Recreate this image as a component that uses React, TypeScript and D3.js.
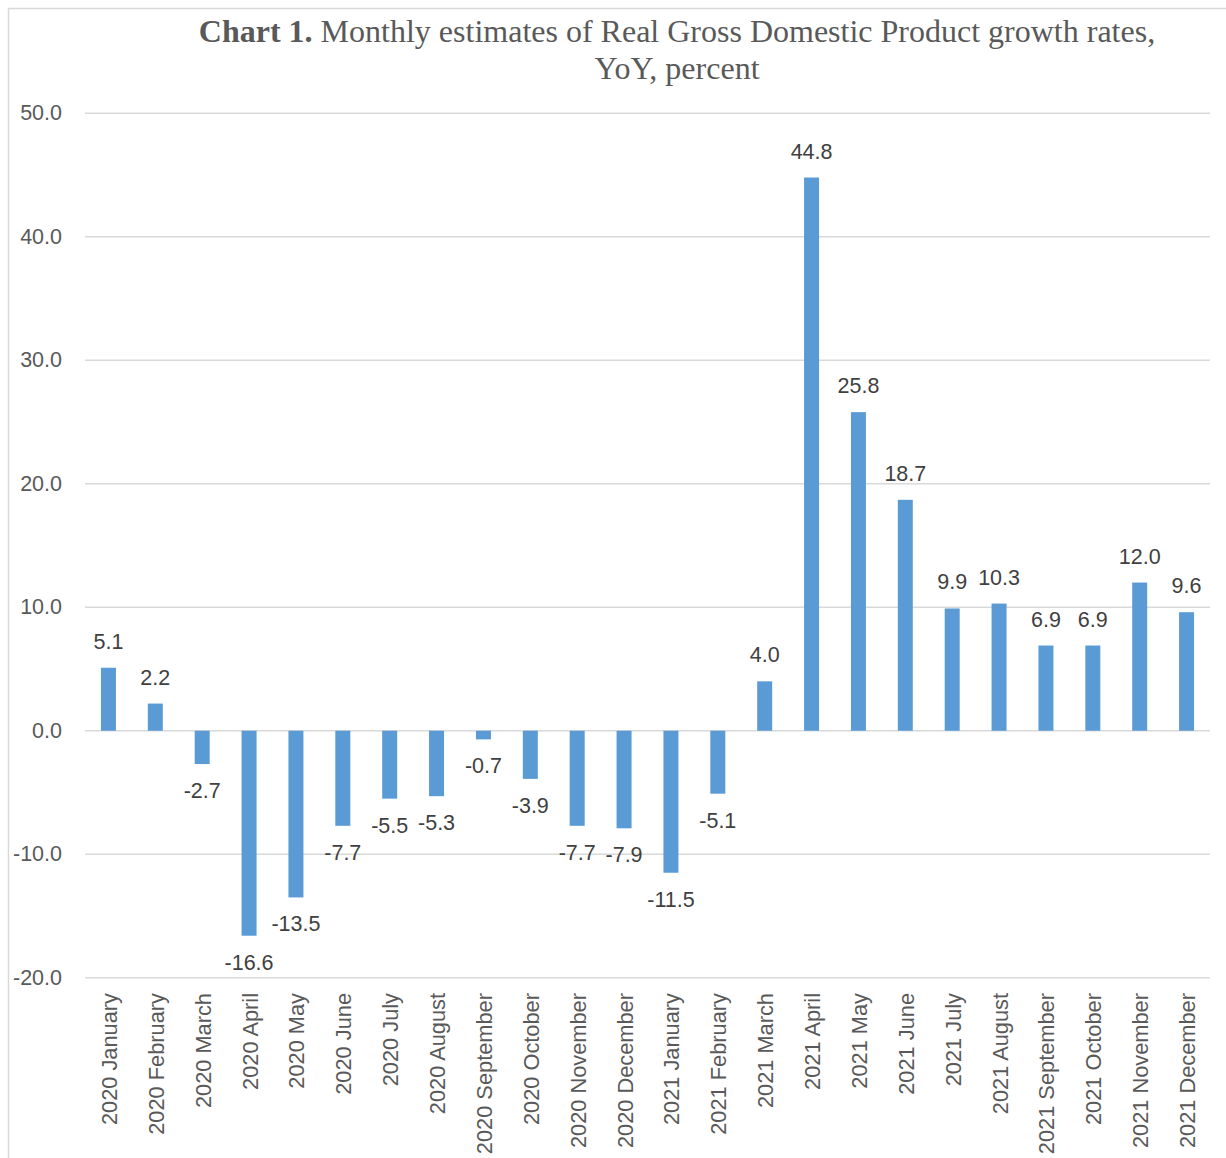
import React from "react";
import * as d3 from "d3";

const categories: string[] = [
  "2020 January", "2020 February", "2020 March", "2020 April", "2020 May", "2020 June",
  "2020 July", "2020 August", "2020 September", "2020 October", "2020 November", "2020 December",
  "2021 January", "2021 February", "2021 March", "2021 April", "2021 May", "2021 June",
  "2021 July", "2021 August", "2021 September", "2021 October", "2021 November", "2021 December",
];
const values: number[] = [
  5.1, 2.2, -2.7, -16.6, -13.5, -7.7, -5.5, -5.3, -0.7, -3.9, -7.7, -7.9,
  -11.5, -5.1, 4.0, 44.8, 25.8, 18.7, 9.9, 10.3, 6.9, 6.9, 12.0, 9.6,
];
const yTicks: number[] = [-20, -10, 0, 10, 20, 30, 40, 50];

const W = 1226;
const H = 1158;
const sans = "'Liberation Sans', Arial, sans-serif";
const serif = "'Liberation Serif', 'Times New Roman', serif";

export default function App() {
  const x = d3.scaleBand<string>().domain(categories).range([85, 1210]).paddingInner(0.68).paddingOuter(0.34);
  const y = d3.scaleLinear().domain([-20, 50]).range([977.7, 113.3]);
  const bw = x.bandwidth();
  return (
    <svg width={W} height={H} style={{ display: "block", position: "absolute", left: 0, top: 0 }}>
      <rect x={8.5} y={8.5} width={1240} height={1170} fill="#fff" stroke="#d9d9d9" strokeWidth={1.5} />
      <text x={677} y={42} textAnchor="middle" fontFamily={serif} fontSize={32} fill="#595959">
        <tspan fontWeight="bold">Chart 1.</tspan>
        <tspan> Monthly estimates of Real Gross Domestic Product growth rates,</tspan>
      </text>
      <text x={677} y={79} textAnchor="middle" fontFamily={serif} fontSize={32} fill="#595959">
        YoY, percent
      </text>
      {yTicks.map((t) => (
        <g key={t}>
          <line x1={85} x2={1210} y1={y(t)} y2={y(t)} stroke="#d9d9d9" strokeWidth={1.5} />
          <text x={62} y={y(t)} textAnchor="end" dominantBaseline="central" fontFamily={sans} fontSize={21.5} fill="#595959">
            {t.toFixed(1)}
          </text>
        </g>
      ))}
      {categories.map((c, i) => {
        const v = values[i];
        const x0 = x(c)!;
        const cx = x0 + bw / 2;
        const top = Math.min(y(v), y(0));
        const h = Math.abs(y(v) - y(0));
        const ly = v >= 0 ? y(v) - 26 : y(v) + 27;
        return (
          <g key={c}>
            <rect x={x0} y={top} width={bw} height={h} fill="#5B9BD5" />
            <text x={cx} y={ly} textAnchor="middle" dominantBaseline="central" fontFamily={sans} fontSize={21.5} fill="#404040">
              {v.toFixed(1)}
            </text>
            <text
              transform={`translate(${cx + 1},993) rotate(-90)`}
              textAnchor="end"
              dominantBaseline="central"
              fontFamily={sans}
              fontSize={21.8}
              fill="#595959"
            >
              {c}
            </text>
          </g>
        );
      })}
    </svg>
  );
}
